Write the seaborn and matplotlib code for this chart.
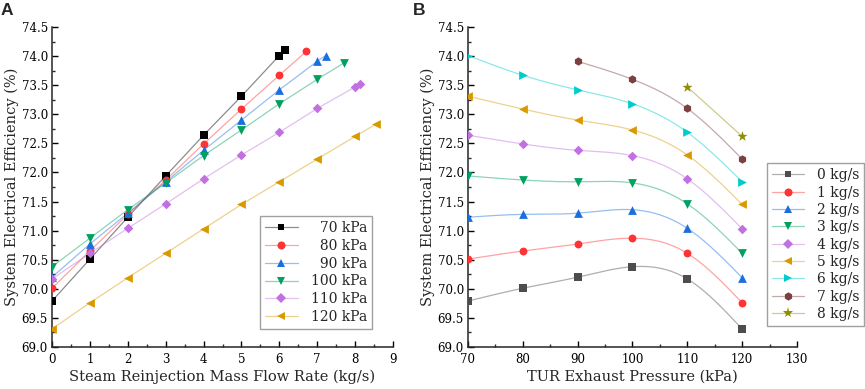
import numpy as np
import pandas as pd
import matplotlib
matplotlib.use("Agg")
import matplotlib.pyplot as plt
import seaborn as sns
from matplotlib.lines import Line2D
from matplotlib.ticker import MultipleLocator
from matplotlib.colors import to_rgba

# ---------------- Panel A data: efficiency vs reinjection flow, per TUR pressure
pressure_labels_a = ["\u200770 kPa", "\u200780 kPa", "\u200790 kPa",
                     "100 kPa", "110 kPa", "120 kPa"]
flow_70 = [0, 1, 2, 3, 4, 5, 6, 6.15]
eff_70 = [69.79, 70.51, 71.23, 71.94, 72.64, 73.31, 74.01, 74.10]
flow_80 = [0, 1, 2, 3, 4, 5, 6, 6.71]
eff_80 = [70.01, 70.65, 71.28, 71.87, 72.49, 73.09, 73.67, 74.08]
flow_90 = [0, 1, 2, 3, 4, 5, 6, 7, 7.22]
eff_90 = [70.20, 70.77, 71.30, 71.84, 72.38, 72.90, 73.42, 73.91, 74.01]
flow_100 = [0, 1, 2, 3, 4, 5, 6, 7, 7.70]
eff_100 = [70.38, 70.87, 71.36, 71.82, 72.29, 72.73, 73.18, 73.60, 73.88]
flow_110 = [0, 1, 2, 3, 4, 5, 6, 7, 8, 8.12]
eff_110 = [70.17, 70.61, 71.04, 71.46, 71.89, 72.30, 72.69, 73.10, 73.47, 73.52]
flow_120 = [0, 1, 2, 3, 4, 5, 6, 7, 8, 8.55]
eff_120 = [69.31, 69.76, 70.19, 70.61, 71.03, 71.45, 71.84, 72.23, 72.62, 72.83]

# ---------------- Panel B data: efficiency vs TUR exhaust pressure, per flow rate
flow_labels_b = ["0 kg/s", "1 kg/s", "2 kg/s", "3 kg/s", "4 kg/s",
                 "5 kg/s", "6 kg/s", "7 kg/s", "8 kg/s"]
press_full = [70, 80, 90, 100, 110, 120]
eff_0kgs = [69.79, 70.01, 70.20, 70.38, 70.17, 69.31]
eff_1kgs = [70.51, 70.65, 70.77, 70.87, 70.61, 69.76]
eff_2kgs = [71.23, 71.28, 71.30, 71.36, 71.04, 70.19]
eff_3kgs = [71.94, 71.87, 71.84, 71.82, 71.46, 70.61]
eff_4kgs = [72.64, 72.49, 72.38, 72.29, 71.89, 71.03]
eff_5kgs = [73.31, 73.09, 72.90, 72.73, 72.30, 71.45]
eff_6kgs = [74.01, 73.67, 73.42, 73.18, 72.69, 71.84]
press_7kgs = [90, 100, 110, 120]
eff_7kgs = [73.91, 73.60, 73.10, 72.23]
press_8kgs = [110, 120]
eff_8kgs = [73.47, 72.62]

# ---------------- style
sns.set_theme(style="ticks")
SERIF = ["DejaVu Serif", "Liberation Serif"]
plt.rcParams["font.family"] = SERIF
plt.rcParams["axes.linewidth"] = 1.1
plt.rcParams["xtick.direction"] = "in"
plt.rcParams["ytick.direction"] = "in"

colors_a = ["#000000", "#ff3333", "#1a6fdf", "#00a060", "#c070e0", "#d99a00"]
colors_b = ["#4d4d4d", "#ff3333", "#1a6fdf", "#00a060", "#c070e0", "#d99a00",
            "#00cccc", "#7d4040", "#8e8e00"]
markers = ["s", "o", "^", "v", "D", "<", ">", "h", "*"]
msizes = [26, 32, 40, 40, 24, 40, 40, 36, 60]
leg_ms = [5.0, 5.8, 6.2, 6.2, 5.0, 6.2, 6.2, 6.0, 8.0]
LINE_ALPHA = 0.45


def natural_spline(x, y, n=200):
    x = np.asarray(x, float)
    y = np.asarray(y, float)
    if len(x) < 3:
        return x, y
    h = np.diff(x)
    m = len(x)
    A = np.zeros((m, m))
    r = np.zeros(m)
    A[0, 0] = 1
    A[-1, -1] = 1
    for i in range(1, m - 1):
        A[i, i - 1] = h[i - 1]
        A[i, i] = 2 * (h[i - 1] + h[i])
        A[i, i + 1] = h[i]
        r[i] = 6 * ((y[i + 1] - y[i]) / h[i] - (y[i] - y[i - 1]) / h[i - 1])
    M = np.linalg.solve(A, r)
    xs = np.linspace(x[0], x[-1], n)
    idx = np.clip(np.searchsorted(x, xs) - 1, 0, m - 2)
    x0, x1 = x[idx], x[idx + 1]
    hh = x1 - x0
    a = (x1 - xs) / hh
    b = (xs - x0) / hh
    ys = (a * y[idx] + b * y[idx + 1]
          + ((a ** 3 - a) * M[idx] + (b ** 3 - b) * M[idx + 1]) * hh ** 2 / 6)
    return xs, ys


def legend_handle(c, i):
    return Line2D([], [], color=to_rgba(c, LINE_ALPHA), lw=0.9,
                  marker=markers[i], markersize=leg_ms[i],
                  markerfacecolor=c, markeredgewidth=0)


fig = plt.figure(figsize=(8.65, 3.89), dpi=100)
axA = fig.add_axes([52 / 865, 1 - 347 / 389, (393 - 52) / 865, 320 / 389])
axB = fig.add_axes([468 / 865, 1 - 347 / 389, (797 - 468) / 865, 320 / 389])

# ---------------- Panel A
series_a = [(flow_70, eff_70), (flow_80, eff_80), (flow_90, eff_90),
            (flow_100, eff_100), (flow_110, eff_110), (flow_120, eff_120)]
handles_a = []
for i, (fx, fy) in enumerate(series_a):
    df = pd.DataFrame({"x": fx, "y": fy})
    sns.lineplot(data=df, x="x", y="y", ax=axA, color=colors_a[i],
                 alpha=LINE_ALPHA, lw=0.9, sort=False, zorder=2)
    sns.scatterplot(data=df, x="x", y="y", ax=axA, color=colors_a[i],
                    marker=markers[i], s=msizes[i], linewidth=0, zorder=3)
    handles_a.append(legend_handle(colors_a[i], i))

# ---------------- Panel B
series_b = [(press_full, eff_0kgs), (press_full, eff_1kgs), (press_full, eff_2kgs),
            (press_full, eff_3kgs), (press_full, eff_4kgs), (press_full, eff_5kgs),
            (press_full, eff_6kgs), (press_7kgs, eff_7kgs), (press_8kgs, eff_8kgs)]
handles_b = []
for i, (px, py) in enumerate(series_b):
    sx, sy = natural_spline(px, py)
    sns.lineplot(x=sx, y=sy, ax=axB, color=colors_b[i], alpha=LINE_ALPHA,
                 lw=0.9, sort=False, zorder=2)
    sns.scatterplot(x=px, y=py, ax=axB, color=colors_b[i], marker=markers[i],
                    s=msizes[i], linewidth=0, zorder=3)
    handles_b.append(legend_handle(colors_b[i], i))

# ---------------- axes formatting
ylabel = "System Electrical Efficiency (%)"
for ax in (axA, axB):
    ax.set_ylim(69.0, 74.5)
    ax.yaxis.set_major_locator(MultipleLocator(0.5))
    ax.yaxis.set_minor_locator(MultipleLocator(0.25))
    ax.yaxis.set_major_formatter(matplotlib.ticker.FormatStrFormatter("%.1f"))
    sns.despine(ax=ax)
    ax.tick_params(which="major", length=4.5, width=1.0, labelsize=8.5,
                   colors="black", pad=3)
    ax.tick_params(which="minor", length=2.5, width=1.0)
    ax.tick_params(axis="x", pad=4)
    ax.set_ylabel(ylabel, fontsize=10.5, labelpad=2)

axA.set_xlim(0, 9)
axA.xaxis.set_major_locator(MultipleLocator(1))
axA.xaxis.set_minor_locator(MultipleLocator(0.5))
axA.set_xlabel("Steam Reinjection Mass Flow Rate (kg/s)", fontsize=10.5, labelpad=3)

axB.set_xlim(70, 130)
axB.xaxis.set_major_locator(MultipleLocator(10))
axB.xaxis.set_minor_locator(MultipleLocator(5))
axB.set_xlabel("TUR Exhaust Pressure (kPa)", fontsize=10.5, labelpad=3)

legA = axA.legend(handles_a, pressure_labels_a, loc="lower right",
                  bbox_to_anchor=(0.938, 0.056), borderaxespad=0,
                  fontsize=10, frameon=True, fancybox=False, framealpha=1,
                  edgecolor="#a0a0a0", handlelength=2.4, handletextpad=0.9,
                  labelspacing=0.28, borderpad=0.35)
legA.get_frame().set_linewidth(1.0)

legB = axB.legend(handles_b, flow_labels_b, loc="lower right",
                  bbox_to_anchor=(1.204, 0.066), borderaxespad=0,
                  fontsize=10, frameon=True, fancybox=False, framealpha=1,
                  edgecolor="#a0a0a0", handlelength=2.3, handletextpad=0.9,
                  labelspacing=0.24, borderpad=0.35)
legB.get_frame().set_linewidth(1.0)
legB.set_clip_on(False)

fig.text(1 / 865, 1 - 3 / 389, "A", fontsize=12.5, fontweight="bold",
         family=["Liberation Sans", "DejaVu Sans"], va="top", ha="left")
fig.text(413 / 865, 1 - 3 / 389, "B", fontsize=12.5, fontweight="bold",
         family=["Liberation Sans", "DejaVu Sans"], va="top", ha="left")

fig.savefig("out.png", dpi=100)
